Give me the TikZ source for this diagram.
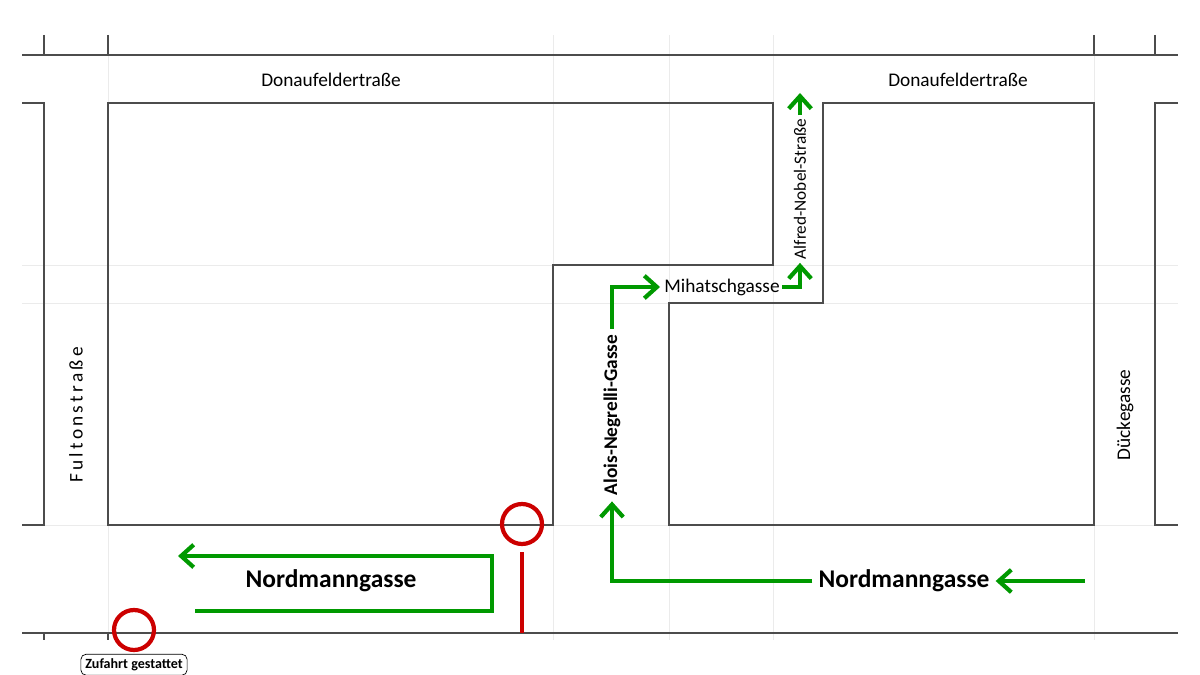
\documentclass[tikz,border=0pt]{standalone}
\usepackage{fontspec}
\setmainfont{Carlito}
\usetikzlibrary{arrows.meta,positioning}

\begin{document}
\begin{tikzpicture}
                [x=0.02cm,y=-0.02cm,
                 street/.style={draw=black!70,semithick},
                 faint/.style={draw=black!8,thin},
                 route/.style={draw=green!60!black,line width=2.4pt,-{Straight Barb[length=2.5mm,width=4.5mm]}},
                 stopsign/.style={circle,draw=red!80!black,line width=2.4pt,minimum size=8mm},
                 streetname/.style={font=\fontsize{11}{13}\selectfont},
                 bigname/.style={font=\fontsize{14.5}{17}\selectfont\bfseries}]

                \useasboundingbox (0,0) rectangle (1200,675);

                % faint grid
                \foreach \x in {108,553,669,773,1094}
                    \draw[faint] (\x,35) -- (\x,640);
                \foreach \y in {265,303,525}
                    \draw[faint] (22,\y) -- (1178,\y);

                % streets
                \draw[street] (22,55) -- (1178,55);
                \draw[street] (22,633) -- (1178,633);
                \foreach \x in {44,108,1094,1155}
                    \draw[street] (\x,35) -- (\x,55);
                \foreach \x in {44,108}
                    \draw[street] (\x,633) -- (\x,640);
                \draw[street] (22,103) -- (44,103) -- (44,525) -- (22,525);
                \draw[street] (1178,103) -- (1155,103) -- (1155,525) -- (1178,525);
                \draw[street] (108,103) -- (773,103) -- (773,265) -- (553,265) -- (553,525) -- (108,525) -- cycle;
                \draw[street] (823,103) -- (1094,103) -- (1094,525) -- (669,525) -- (669,303) -- (823,303) -- cycle;

                % street names
                \node[streetname] (donau w) at (331,80) {Donaufeldertraße};
                \node[streetname] (donau e) at (958,80) {Donaufeldertraße};
                \node[streetname,rotate=90] (fulton) at (76,415) {F\,u\,l\,t\,o\,n\,s\,t\,r\,a\,ß\,e};
                \node[streetname,rotate=90] (duecke) at (1125,415) {Dückegasse};
                \node[rotate=90,font=\fontsize{11}{13}\selectfont\bfseries] (negrelli) at (612,415) {Alois-Negrelli-Gasse};
                \node[rotate=90,font=\fontsize{9.8}{12}\selectfont,inner sep=2pt] (nobel) at (800,189) {Alfred-Nobel-Straße};
                \node[streetname,inner sep=1pt] (mihatsch) at (722,287) {Mihatschgasse};
                \node[bigname] (nord w) at (331,581) {Nordmanngasse};
                \node[bigname] (nord e) at (904,581) {Nordmanngasse};

                % routes
                \coordinate (w start) at (195,611);
                \coordinate (w end) at (178,556);
                \draw[route] (w start) -- (492,611) -- (492,556) -- (w end);
                \coordinate (e start) at (1085,581);
                \draw[route] (e start) -- (nord e.east);
                \draw[route] (nord e.west) -- (612,581) -- (negrelli.west);
                \coordinate (m end) at (660,287);
                \draw[route] (negrelli.east) -- (612,287) -- (m end);
                \draw[route] (mihatsch.east) -- (800,287) -- (nobel.west);
                \coordinate (n end) at (800,93);
                \draw[route] (nobel.east) -- (n end);

                % stops
                \node[stopsign] (stop mid) at (522,524) {};
                \coordinate (pole foot) at (522,633);
                \draw[red!80!black,line width=2.4pt] (stop mid.south) ++(0,6) -- (pole foot);
                \node[stopsign] (stop west) at (134,630) {};
                \node[draw,rounded corners=3pt,font=\fontsize{8}{9}\selectfont\bfseries,inner sep=2.5pt,below=1pt of stop west] (zufahrt) {Zufahrt gestattet};

            \end{tikzpicture}
\end{document}
